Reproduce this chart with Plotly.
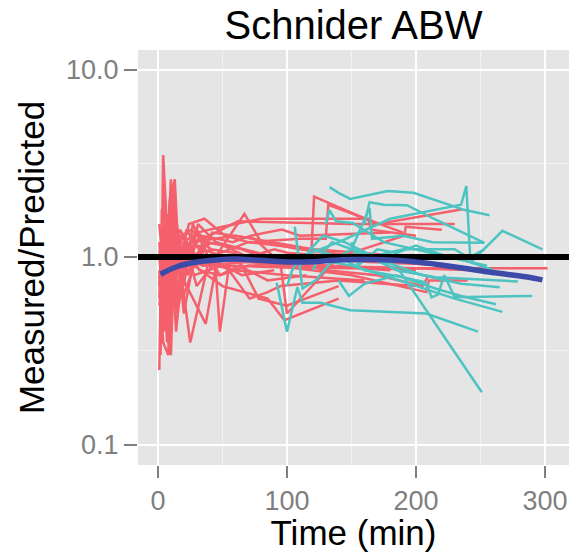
import plotly.graph_objects as go

# ---------------- data ----------------
TITLE = "Schnider ABW"
X_LABEL = "Time (min)"
Y_LABEL = "Measured/Predicted"
X_TICKS = [0, 100, 200, 300]
Y_TICKS = [0.1, 1.0, 10.0]
Y_TICK_TEXT = ["0.1", "1.0", "10.0"]
REF_LEVEL = 1.0

red_times = [
    [2, 4, 7, 12, 20, 45, 90, 150, 230],
    [1, 3, 6, 10, 14, 25, 60, 120, 200],
    [2, 5, 9, 13, 17, 30, 62, 150, 230],
    [1, 4, 8, 11, 16, 35, 75, 130, 200],
    [3, 6, 9, 12, 15, 22, 40, 67, 80, 110, 160],
    [2, 5, 8, 12, 18, 25, 40, 70, 119, 121, 170, 236],
    [1, 3, 7, 10, 14, 20, 28, 50, 100, 150, 302],
    [2, 4, 6, 10, 13, 18, 37, 45, 60, 100, 160],
    [1, 5, 9, 14, 19, 30, 44, 48, 56, 90, 150, 208, 210, 240],
    [3, 6, 11, 16, 24, 36, 52, 70, 110, 130, 132, 190],
    [1, 4, 8, 12, 18, 26, 41, 60, 78, 100, 140],
    [2, 6, 10, 15, 20, 28, 38, 65, 95, 100, 140, 191, 192, 220],
    [1, 3, 7, 11, 16, 22, 35, 50, 80, 130, 180],
    [2, 5, 9, 13, 21, 33, 46, 58, 72, 96, 110, 180],
    [1, 4, 7, 13, 20, 27, 39, 55, 71, 85, 95, 140, 200],
    [2, 5, 8, 12, 17, 25, 31, 45, 70, 90, 101, 150],
    [1, 3, 6, 9, 14, 23, 35, 60, 105, 180, 245],
    [2, 4, 8, 11, 15, 19, 32, 48, 63, 85, 115],
    [3, 7, 12, 17, 24, 30, 42, 75, 90, 130, 170, 205, 210],
    [1, 5, 10, 15, 20, 30, 50, 80, 120, 163, 165, 200],
    [2, 4, 9, 14, 19, 28, 50, 85, 98, 140],
    [1, 3, 6, 9, 12, 16, 22, 30, 45, 65, 90],
    [2, 5, 7, 11, 14, 18, 26, 34, 48, 70, 125],
]
red_values = [
    [0.30, 3.50, 1.40, 0.80, 1.10, 1.20, 1.00, 0.95, 0.90],
    [0.25, 1.80, 0.60, 2.60, 0.90, 1.20, 1.30, 1.10, 1.00],
    [1.00, 0.40, 2.00, 2.60, 0.70, 1.20, 1.55, 1.50, 1.50],
    [0.80, 0.35, 0.30, 2.40, 1.00, 0.90, 0.95, 0.90, 0.85],
    [1.20, 0.90, 0.30, 2.20, 0.60, 1.40, 0.90, 1.70, 1.20, 1.10, 1.00],
    [0.90, 2.20, 0.60, 1.50, 0.80, 0.35, 1.00, 1.20, 1.10, 2.10, 1.50, 1.80],
    [0.60, 1.40, 0.35, 1.90, 0.50, 1.10, 0.80, 0.90, 0.88, 0.87, 0.87],
    [1.10, 0.50, 1.60, 0.30, 1.30, 0.80, 0.44, 0.90, 0.85, 0.80, 0.75],
    [0.70, 1.20, 0.50, 1.60, 0.90, 1.40, 1.00, 0.40, 1.00, 0.90, 0.80, 0.65, 0.75, 0.75],
    [1.30, 0.70, 1.80, 0.90, 1.50, 1.60, 1.30, 1.20, 1.25, 1.25, 1.90, 1.35],
    [1.50, 0.90, 1.20, 0.70, 1.30, 1.40, 1.10, 1.05, 0.60, 0.55, 0.70],
    [0.90, 1.50, 0.80, 1.20, 0.50, 1.00, 1.20, 1.10, 0.92, 0.50, 1.00, 1.30, 1.45, 1.40],
    [1.00, 0.70, 1.30, 1.00, 0.80, 1.20, 0.90, 1.00, 0.95, 0.90, 0.85],
    [0.80, 1.10, 0.90, 1.30, 1.00, 1.30, 1.25, 1.20, 1.30, 1.40, 1.30, 1.35],
    [1.20, 0.60, 1.40, 1.10, 0.70, 1.50, 1.00, 0.85, 0.60, 0.65, 0.70, 0.75, 0.70],
    [0.45, 0.90, 1.70, 0.75, 1.10, 0.95, 1.50, 1.20, 1.00, 1.10, 1.05, 1.00],
    [1.00, 1.30, 0.70, 1.00, 1.20, 0.80, 1.10, 0.95, 0.90, 0.88, 0.85],
    [0.70, 0.90, 1.10, 0.55, 1.00, 1.30, 0.85, 0.80, 0.90, 0.75, 0.80],
    [1.00, 1.20, 0.85, 1.40, 1.15, 0.90, 1.35, 1.25, 1.00, 0.85, 0.80, 0.70, 0.80],
    [0.55, 1.00, 1.30, 0.90, 1.20, 1.35, 1.45, 1.60, 1.60, 1.60, 1.40, 1.30],
    [0.40, 1.30, 0.32, 1.10, 0.60, 0.90, 0.70, 0.60, 0.46, 0.60],
    [0.85, 0.45, 1.20, 0.65, 0.90, 0.55, 1.10, 0.70, 0.95, 0.80, 0.85],
    [0.35, 1.00, 0.60, 0.95, 0.40, 0.75, 0.90, 1.15, 0.80, 0.90, 0.95],
]

cyan_times = [
    [133, 140, 149, 178, 198, 238, 257],
    [100, 104, 110, 140, 180, 235, 239, 242, 253],
    [120, 125, 135, 150, 170, 187, 251],
    [92, 100, 108, 112, 126, 149, 208, 248],
    [110, 118, 128, 145, 165, 190, 230, 244, 267, 298],
    [130, 150, 175, 200, 230, 267],
    [120, 140, 160, 190, 208, 212, 217, 222, 230, 290],
    [140, 160, 185, 215, 250, 279],
    [150, 175, 205, 235, 265],
    [106, 112, 122, 135, 150, 164, 166, 190, 213, 253],
    [160, 164, 175, 193, 213, 253],
    [130, 133, 138, 151, 175, 200, 240, 260],
    [140, 148, 160, 185, 215, 235, 262],
    [150, 155, 170, 185, 200, 225, 255],
]
cyan_values = [
    [2.36, 2.20, 2.04, 2.25, 2.20, 1.78, 1.67],
    [0.70, 0.85, 1.00, 1.20, 1.60, 1.90, 2.39, 1.00, 1.10],
    [0.85, 1.00, 1.20, 1.10, 0.95, 0.85, 0.19],
    [0.73, 0.40, 0.69, 0.57, 0.57, 0.52, 0.50, 0.40],
    [0.90, 1.10, 1.30, 1.20, 1.00, 1.10, 1.10, 0.96, 1.38, 1.10],
    [0.95, 0.90, 0.80, 0.70, 0.60, 0.51],
    [1.10, 1.00, 0.85, 0.78, 0.73, 0.61, 0.63, 0.80, 0.61, 0.62],
    [0.95, 1.05, 0.85, 0.78, 0.76, 0.74],
    [1.15, 0.95, 0.80, 0.72, 0.69],
    [1.45, 0.68, 0.75, 0.95, 1.10, 1.83, 1.25, 1.30, 1.20, 1.19],
    [1.50, 1.96, 1.90, 1.89, 1.61, 1.19],
    [1.50, 1.78, 1.55, 1.52, 1.20, 1.10, 0.95, 0.85],
    [0.75, 0.62, 0.72, 0.80, 0.68, 0.62, 0.56],
    [1.20, 0.90, 1.10, 1.05, 1.15, 1.00, 0.90],
]

smooth_times = [2, 15, 30, 45, 60, 75, 90, 105, 120, 135, 150, 165, 180, 195,
                210, 225, 240, 255, 270, 285, 298]
smooth_values = [0.81, 0.89, 0.94, 0.965, 0.975, 0.965, 0.95, 0.94, 0.945, 0.96,
                 0.97, 0.97, 0.965, 0.95, 0.925, 0.895, 0.865, 0.835, 0.81, 0.785, 0.755]

# ---------------- styling ----------------
RED = "#F4606C"
CYAN = "#4EC4C2"
BLUE = "#3D4BA8"
X_RANGE = [-15.5, 318.6]
Y_RANGE_LOG = [-1.109, 1.104]
FONT = "Liberation Sans, Arial, sans-serif"

fig = go.Figure()
for t, v in zip(red_times, red_values):
    fig.add_trace(go.Scatter(x=t, y=v, mode="lines",
                             line=dict(color=RED, width=2.5), hoverinfo="skip"))
for t, v in zip(cyan_times, cyan_values):
    fig.add_trace(go.Scatter(x=t, y=v, mode="lines",
                             line=dict(color=CYAN, width=2.5), hoverinfo="skip"))
# reference line at 1.0 across the whole panel
fig.add_trace(go.Scatter(x=X_RANGE, y=[REF_LEVEL, REF_LEVEL], mode="lines",
                         line=dict(color="black", width=6), hoverinfo="skip"))
fig.add_trace(go.Scatter(x=smooth_times, y=smooth_values, mode="lines",
                         line=dict(color=BLUE, width=5.5, shape="spline"),
                         hoverinfo="skip"))

fig.update_layout(
    width=577, height=552,
    margin=dict(l=138, r=8, t=50, b=87, autoexpand=False),
    paper_bgcolor="white", plot_bgcolor="#E5E5E5",
    showlegend=False,
    font=dict(family=FONT, color="black"),
    title=dict(text=TITLE, font=dict(size=40, color="black", family=FONT),
               x=0.5, xref="paper", xanchor="center",
               y=1 - 25 / 552, yref="container", yanchor="middle"),
)
fig.update_xaxes(
    range=X_RANGE, tickvals=X_TICKS, ticktext=[str(v) for v in X_TICKS],
    automargin=False,
    showgrid=True, gridcolor="white", gridwidth=2,
    minor=dict(tickvals=[50, 150, 250], showgrid=True, gridcolor="#F2F2F2",
               gridwidth=1, ticklen=0),
    zeroline=False, showline=False,
    ticks="outside", ticklen=12, tickwidth=2, tickcolor="#7F7F7F",
    tickfont=dict(size=27, color="#7F7F7F", family=FONT),
    title=dict(text=X_LABEL, font=dict(size=35, color="black", family=FONT), standoff=5),
)
fig.update_yaxes(
    type="log", range=Y_RANGE_LOG, tickvals=Y_TICKS, ticktext=Y_TICK_TEXT,
    automargin=False,
    showgrid=True, gridcolor="white", gridwidth=2,
    minor=dict(tickvals=[10 ** -0.5, 10 ** 0.5], showgrid=True, gridcolor="#F2F2F2",
               gridwidth=1, ticklen=0),
    zeroline=False, showline=False,
    ticks="outside", ticklen=13, tickwidth=2, tickcolor="#7F7F7F",
    tickfont=dict(size=27, color="#7F7F7F", family=FONT),
    title=dict(text=Y_LABEL, font=dict(size=35, color="black", family=FONT), standoff=10),
)

fig.write_html(
    "out.html",
    config={"displayModeBar": False},
    post_script="document.body.style.margin='0';document.body.style.overflow='hidden';",
)
